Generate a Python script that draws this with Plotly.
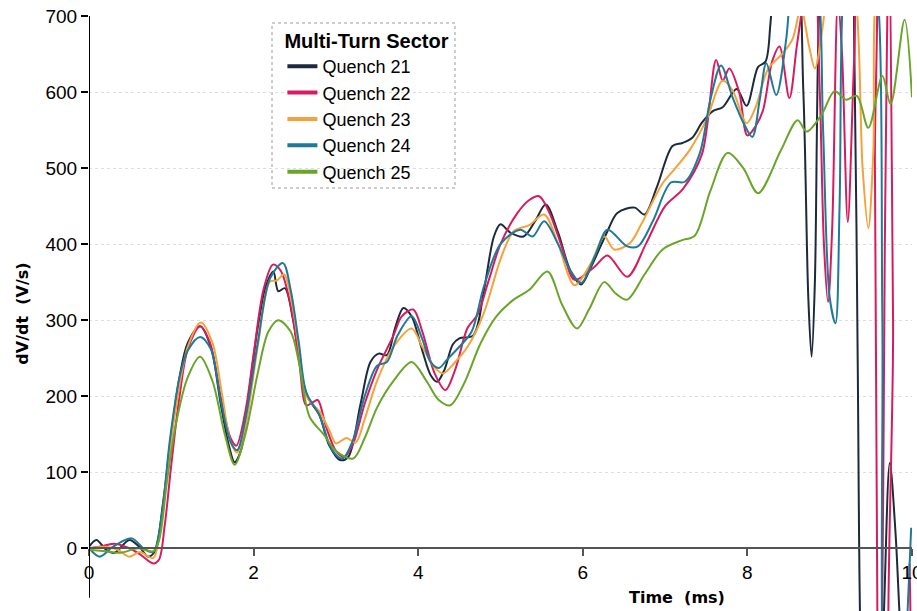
import plotly.graph_objects as go

# ---------------- data ----------------
t21 = [0.00,0.09,0.21,0.31,0.49,0.61,0.72,0.80,0.90,1.00,
       1.10,1.20,1.35,1.48,1.60,1.70,1.77,1.85,1.95,2.05,
       2.15,2.24,2.30,2.38,2.48,2.58,2.66,2.80,2.92,3.05,
       3.15,3.30,3.42,3.52,3.62,3.72,3.82,3.92,4.05,4.15,
       4.23,4.32,4.42,4.50,4.67,4.80,4.92,5.00,5.12,5.28,
       5.42,5.55,5.70,5.85,5.98,6.10,6.30,6.42,6.63,6.75,
       6.90,7.09,7.21,7.33,7.45,7.58,7.70,7.87,7.99,8.13,
       8.22,8.28,8.34,8.45,8.58,8.68,8.74,8.78,8.82,8.87,
       8.95,9.10,9.25,9.30,9.34,9.38,9.45,9.58,9.65,9.73,
       9.80,9.86,9.92]
q21 = [2,11,-2,-6,11,2,-11,-4,60,150,
       225,270,292,265,190,135,113,130,210,290,
       345,364,338,342,300,230,198,175,135,116,
       120,190,245,256,254,290,316,305,260,228,
       219,235,268,276,280,340,410,426,415,410,
       430,452,415,365,347,370,417,441,448,439,
       475,529,533,540,560,575,580,604,582,633,
       640,690,780,820,800,600,330,252,350,700,
       840,860,820,650,250,-150,-300,-250,-110,112,
       20,-110,-200]

t22 = [0.00,0.17,0.31,0.49,0.62,0.78,0.85,0.92,1.00,1.10,
       1.20,1.35,1.47,1.60,1.72,1.79,1.90,2.00,2.12,2.235,
       2.33,2.45,2.55,2.64,2.72,2.78,2.88,3.00,3.10,3.20,
       3.35,3.50,3.70,3.80,3.94,4.05,4.20,4.33,4.45,4.60,
       4.72,4.85,5.00,5.20,5.35,5.47,5.60,5.75,5.90,6.14,
       6.30,6.54,6.77,7.00,7.22,7.45,7.62,7.70,7.78,7.90,
       8.00,8.10,8.19,8.30,8.39,8.51,8.60,8.68,8.80,8.88,
       8.93,8.98,9.03,9.10,9.15,9.22,9.30,9.38,9.50,9.55,
       9.58,9.62,9.67,9.72,9.77,9.80,9.90,9.97]
q22 = [0,3,6,0,-8,-20,-15,30,110,200,
       262,292,270,200,145,135,180,255,340,373,
       365,320,250,188,192,195,160,128,120,135,
       190,235,280,305,314,285,230,208,235,290,
       307,350,400,440,458,463,440,395,353,370,
       385,357,401,450,473,519,642,615,631,600,
       543,555,576,640,660,592,660,720,800,600,
       400,324,420,720,650,429,650,800,800,500,
       -100,-300,400,800,300,-250,-250,-20]

t23 = [0.00,0.20,0.35,0.49,0.62,0.78,0.86,0.95,1.05,1.20,
       1.36,1.50,1.62,1.72,1.80,1.90,2.05,2.20,2.28,2.37,
       2.47,2.56,2.64,2.80,2.92,3.00,3.13,3.24,3.35,3.50,
       3.70,3.92,4.05,4.20,4.30,4.45,4.60,4.80,5.00,5.16,
       5.35,5.53,5.70,5.90,6.10,6.26,6.38,6.57,6.71,6.97,
       7.11,7.30,7.50,7.70,7.82,7.99,8.10,8.25,8.43,8.55,
       8.65,8.75,8.82,8.92,9.00,9.20,9.32,9.40,9.47,9.53,
       9.60,9.80,10.00]
q23 = [0,2,-2,-11,-5,-13,20,100,180,265,
       297,270,200,140,126,160,265,351,352,360,
       320,255,200,180,155,138,145,139,170,220,
       265,289,265,238,230,245,265,310,380,417,
       425,439,400,346,375,410,393,401,426,480,
       498,524,563,615,602,559,580,630,651,670,
       710,660,631,690,760,780,720,500,421,520,
       760,800,800]

t24 = [0.00,0.13,0.29,0.52,0.66,0.78,0.88,0.98,1.10,1.20,
       1.35,1.48,1.60,1.72,1.80,1.90,2.05,2.20,2.357,2.45,
       2.55,2.64,2.80,2.95,3.08,3.20,3.35,3.50,3.62,3.75,
       3.92,4.05,4.15,4.25,4.35,4.50,4.65,4.80,5.00,5.24,
       5.39,5.53,5.70,5.85,5.98,6.15,6.30,6.54,6.67,6.85,
       7.07,7.24,7.42,7.55,7.68,7.82,7.95,8.06,8.15,8.23,
       8.35,8.47,8.55,8.70,8.85,8.92,9.00,9.07,9.12,9.18,
       9.30,9.50,9.60,9.64,9.70,9.85,9.92,9.99]
q24 = [0,-11,2,13,0,-5,40,140,225,260,
       278,262,195,140,129,170,270,355,375,340,
       270,205,175,130,118,140,200,240,245,280,
       305,275,245,237,248,265,285,345,400,419,
       410,430,400,365,349,385,419,397,397,430,
       481,482,519,590,635,593,560,541,590,638,
       596,668,760,820,760,550,330,296,450,760,
       820,800,700,300,-250,-300,-150,27]

t25 = [0.00,0.20,0.38,0.60,0.78,0.85,0.95,1.05,1.20,1.35,
       1.50,1.65,1.77,1.90,2.05,2.18,2.30,2.45,2.55,2.68,
       2.85,3.00,3.21,3.35,3.50,3.70,3.92,4.10,4.25,4.39,
       4.55,4.76,4.95,5.16,5.35,5.57,5.75,5.93,6.08,6.26,
       6.40,6.54,6.75,6.97,7.20,7.36,7.55,7.76,7.95,8.13,
       8.41,8.61,8.72,8.90,9.06,9.20,9.33,9.47,9.64,9.74,
       9.91,10.00]
q25 = [-2,-4,-6,0,-4,10,90,160,225,252,
       220,150,110,150,230,285,300,285,245,173,
       150,128,118,145,185,220,245,220,195,188,
       215,270,305,327,340,364,320,289,315,350,
       335,327,360,393,405,411,470,520,500,467,
       524,563,548,570,601,590,595,553,621,584,
       695,593]

series_names = ["Quench 21", "Quench 22", "Quench 23", "Quench 24", "Quench 25"]
series_t = [t21, t22, t23, t24, t25]
series_v = [q21, q22, q23, q24, q25]
series_colors = ["#1c2a3c", "#d81b5e", "#f5a23a", "#1e7a98", "#6aa52a"]

x_ticks = [0, 2, 4, 6, 8, 10]
y_ticks = [0, 100, 200, 300, 400, 500, 600, 700]

Y_MIN, Y_MAX = -82.5, 700

# ---------------- figure ----------------
fig = go.Figure()
for name, tt, vv, col in zip(series_names, series_t, series_v, series_colors):
    fig.add_trace(go.Scatter(
        x=tt, y=vv, name=name, mode="lines", showlegend=False,
        legendgroup=name,
        line=dict(color=col, width=2, shape="spline", smoothing=0.9),
    ))
# legend keys (thicker swatches, as in the reference legend)
for name, col in zip(series_names, series_colors):
    fig.add_trace(go.Scatter(
        x=[None], y=[None], name=name, mode="lines", legendgroup=name,
        line=dict(color=col, width=4),
    ))

zero_pos = (0 - Y_MIN) / (Y_MAX - Y_MIN)

fig.update_layout(
    width=917, height=611,
    margin=dict(l=89, r=5, t=16, b=0, autoexpand=False),
    paper_bgcolor="white", plot_bgcolor="white",
    font=dict(family="Liberation Sans, Arial, sans-serif", color="black"),
    xaxis=dict(
        range=[0, 10.0001], tickvals=x_ticks, ticktext=[str(v) for v in x_ticks],
        anchor="free", position=zero_pos, automargin=False,
        showline=True, linecolor="#555555", linewidth=1.5,
        ticks="outside", ticklen=7, tickwidth=1.5, tickcolor="#555555",
        tickfont=dict(size=19, color="black"), ticklabeloverflow="allow",
        showgrid=False, zeroline=False,
    ),
    yaxis=dict(
        range=[Y_MIN, Y_MAX], tickvals=y_ticks, ticktext=[str(v) for v in y_ticks],
        showline=False, ticks="outside", ticklen=7, tickwidth=1.5, tickcolor="black",
        tickfont=dict(size=19, color="black"), automargin=False,
        showgrid=True, gridcolor="#dadde2", griddash="dot", gridwidth=1,
        zeroline=False,
        title=dict(text="<b>dV/dt\u00a0 (V/s)</b>", standoff=12,
                   font=dict(family="DejaVu Sans", size=16, color="black")),
    ),
    legend=dict(
        x=0.235, y=0.99, xanchor="left", yanchor="top",
        bgcolor="rgba(255,255,255,0)", borderwidth=0,
        font=dict(size=18, color="black"),
        title=dict(text="<b>Multi-Turn Sector</b>", font=dict(size=20)),
        itemwidth=30, tracegroupgap=0,
    ),
    shapes=[
        dict(type="line", xref="x", yref="y", x0=0, x1=0, y0=-65, y1=700,
             line=dict(color="black", width=2), layer="above"),
        dict(type="rect", xref="paper", yref="paper",
             x0=(272 - 89) / 823, x1=(455 - 89) / 823,
             y0=1 - (188 - 16) / 595, y1=1 - (23 - 16) / 595,
             line=dict(color="#9a9a9a", width=1, dash="dot"),
             fillcolor="white", layer="below"),
    ],
    annotations=[
        dict(text="<b>Time\u00a0 (ms)</b>", xref="paper", yref="paper",
             x=(677 - 89) / 823, y=1 - (597 - 16) / 595,
             xanchor="center", yanchor="middle", showarrow=False,
             font=dict(family="DejaVu Sans", size=16, color="black")),
    ],
)

fig.write_html("out.html")
